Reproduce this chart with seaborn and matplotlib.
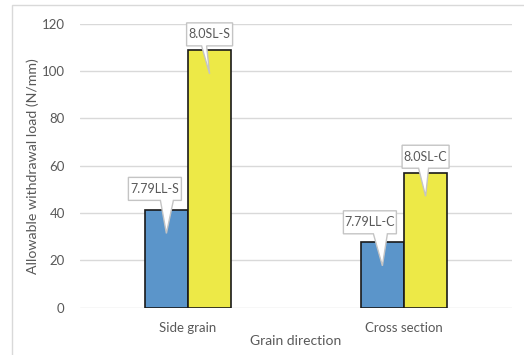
import matplotlib
matplotlib.use("Agg")
import matplotlib.pyplot as plt
from matplotlib.patches import Polygon, Rectangle
import seaborn as sns
import pandas as pd

# Withdrawal load per screw type and grain direction
directions = ["Side grain", "Cross section"]
screw_types = ["7.79LL", "8.0SL"]
load_7_79ll = [41.4, 27.7]
load_8_0sl = [108.8, 57.1]
labels_7_79ll = ["7.79LL-S", "7.79LL-C"]
labels_8_0sl = ["8.0SL-S", "8.0SL-C"]
y_ticks = [0, 20, 40, 60, 80, 100, 120]

df = pd.DataFrame({
    "direction": directions * 2,
    "screw": [screw_types[0]] * 2 + [screw_types[1]] * 2,
    "load": load_7_79ll + load_8_0sl,
    "label": labels_7_79ll + labels_8_0sl,
})

sns.set_theme(style="white")
plt.rcParams["font.family"] = ["Lato", "DejaVu Sans"]

W, H, DPI = 524, 355, 100
fig = plt.figure(figsize=(W / DPI, H / DPI), dpi=DPI)
ax = fig.add_axes([80 / W, 1 - 307.7 / H, 432 / W, (307.7 - 23.7) / H])

palette = {"7.79LL": "#5B95CA", "8.0SL": "#EDE947"}
sns.barplot(data=df, x="direction", y="load", hue="screw", order=directions,
            hue_order=screw_types, palette=palette, width=0.4, gap=0,
            edgecolor="#1a1a1a", linewidth=1.2, saturation=1, legend=False,
            errorbar=None, ax=ax, zorder=3)

ax.set_ylim(0, 120)
ax.set_xlim(-0.5, 1.5)
ax.set_yticks(y_ticks)
ax.yaxis.grid(True, color="#d9d9d9", linewidth=1.0, zorder=0)
ax.set_axisbelow(True)
for s in ax.spines.values():
    s.set_visible(False)
ax.tick_params(axis="both", length=0, labelsize=9.5, colors="#595959")
ax.tick_params(axis="y", pad=11)
ax.tick_params(axis="x", pad=10)
ax.set_xlabel("Grain direction", fontsize=10, color="#595959", labelpad=1)
ax.set_ylabel("Allowable withdrawal load (N/mm)", fontsize=10.2,
              color="#595959", labelpad=2)

# Outer chart frame
fig.add_artist(Rectangle((12 / W, -0.1), 1.2, 1 - 5.5 / H + 0.1,
                         transform=fig.transFigure, fill=False,
                         edgecolor="#d9d9d9", linewidth=1.0))

fig.canvas.draw()


def callout(bar, text, box_w, dx, gap, base):
    """White speech-bubble label pointing into a bar."""
    cx = bar.get_x() + bar.get_width() / 2
    top = bar.get_height()
    tx, ty = ax.transData.transform((cx, top - 10))
    bx0 = tx + dx - box_w / 2
    bx1 = bx0 + box_w
    by0 = ty + gap
    by1 = by0 + 23
    p0, p1 = tx + base[0], tx + base[1]
    pts = [(bx0, by0), (p0, by0), (tx, ty), (p1, by0), (bx1, by0),
           (bx1, by1), (bx0, by1)]
    poly = Polygon(pts, closed=True, transform=None, facecolor="white",
                   edgecolor="#c4c4c4", linewidth=1.0, zorder=5)
    fig.add_artist(poly)
    fig.text((bx0 + bx1) / 2 / W, (by0 + by1) / 2 / H, text,
             ha="center", va="center", fontsize=9, color="#595959",
             zorder=6)


lookup = {}
for bar in ax.patches:
    if bar.get_height() > 0:
        lookup[round(bar.get_height(), 3)] = bar

callout(lookup[load_8_0sl[0]], labels_8_0sl[0], 46, 0, 28, (-8, -3))
callout(lookup[load_7_79ll[0]], labels_7_79ll[0], 53, -11.5, 33, (-6, 7))
callout(lookup[load_8_0sl[1]], labels_8_0sl[1], 47, 0, 28, (-7, 3))
callout(lookup[load_7_79ll[1]], labels_7_79ll[1], 53, -12.5, 32, (-9, 5))

fig.savefig("out.png", dpi=DPI, facecolor="white")
